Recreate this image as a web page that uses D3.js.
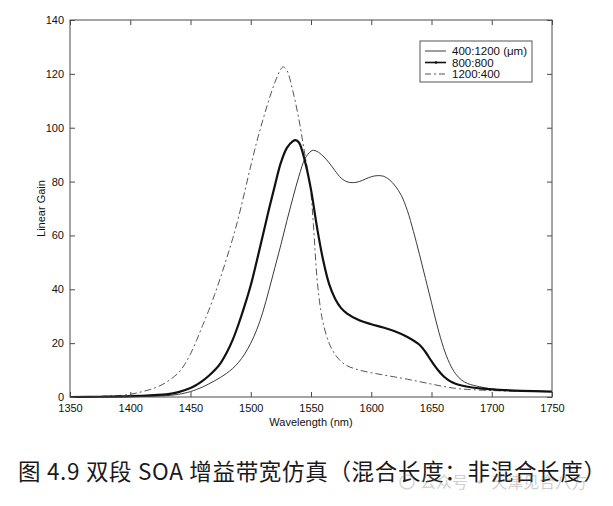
<!DOCTYPE html>
<html>
<head>
<meta charset="utf-8">
<script src="https://cdn.jsdelivr.net/npm/d3@7/dist/d3.min.js"></script>
<style>
  html, body { margin: 0; padding: 0; background: #fff; }
  svg { display: block; }
</style>
</head>
<body>
<svg id="chart" width="613" height="506"></svg>
<script>
// ---- data ----
const xTicks = [1350, 1400, 1450, 1500, 1550, 1600, 1650, 1700, 1750];
const yTicks = [0, 20, 40, 60, 80, 100, 120, 140];
const seriesNames = ["400:1200 (\u03bcm)", "800:800", "1200:400"];

// 400:1200 (thin solid)
const wl1 = [1350,1375,1400,1410,1420,1430,1440,1450,1455,1460,1465,1470,1475,1480,1485,1490,1495,1500,1505,1510,1515,1520,1525,1530,1535,1540,1545,1550,1552,1555,1560,1565,1570,1575,1580,1585,1590,1595,1600,1605,1610,1615,1620,1625,1630,1635,1640,1645,1650,1655,1660,1665,1670,1675,1680,1690,1700,1710,1725,1750];
const g1  = [0,0,0.1,0.2,0.3,0.5,1,2,2.8,3.7,4.8,6,7.3,8.8,10.6,12.9,16,20,25,31.5,39.5,48,56.5,65.5,74,82,88.5,91.3,91.6,91.2,89.5,87,84,81.3,79.9,79.6,80,80.9,81.8,82.2,82,80.7,78.3,74.8,69.2,61.5,53,44,35,26,18.3,12.5,8.6,6.3,5,3.8,3,2.6,2.3,2];

// 800:800 (thick dotted)
const wl2 = [1350,1375,1400,1420,1430,1440,1450,1455,1460,1465,1470,1475,1480,1485,1490,1495,1500,1505,1510,1515,1520,1525,1530,1535,1537,1540,1545,1550,1555,1560,1565,1570,1575,1580,1590,1600,1610,1620,1630,1640,1645,1650,1655,1660,1665,1670,1680,1690,1700,1725,1750];
const g2  = [0,0.1,0.3,0.7,1,1.8,3.3,4.5,6,7.8,9.9,12.6,16.4,21.2,27.2,34,41.5,50.5,60,69.5,78.5,87,92.5,95,95.4,94.5,87.5,77,63,51,42,36.5,33,31,28.5,27,25.8,24.3,22.3,19.4,16.7,13.3,10.2,7.7,6,4.9,3.8,3.2,2.8,2.3,2];

// 1200:400 (dash-dot)
const wl3 = [1350,1375,1390,1400,1410,1420,1430,1440,1445,1450,1455,1460,1465,1470,1475,1480,1485,1490,1495,1500,1505,1510,1515,1520,1525,1527,1530,1535,1540,1544,1548,1550,1552,1555,1558,1560,1565,1570,1575,1580,1590,1600,1610,1620,1630,1640,1650,1660,1670,1680,1700,1725,1750];
const g3  = [0,0.2,0.5,1,2,3.3,5.5,9,12,16,21,26.5,32,38,44.5,51.5,58.8,67,76.3,85.8,94.8,102.8,110.2,116.8,121.8,122.6,121.3,113.5,103,92.5,82,75.5,64,44,32.5,27.5,20,15.8,13.2,11.6,10,9,8.2,7.4,6.6,5.7,4.8,3.9,3.2,2.8,2.4,2.1,2];

// ---- layout ----
const svg = d3.select("#chart");
const M = { left: 70, right: 552, top: 20, bottom: 397 };
const x = d3.scaleLinear().domain([1350, 1750]).range([M.left, M.right]);
const y = d3.scaleLinear().domain([0, 140]).range([M.bottom, M.top]);
const font = "'Liberation Sans', Arial, sans-serif";
const frameColor = "#4a4a4a";

// curves
const line = d3.line().x(d => x(d[0])).y(d => y(d[1])).curve(d3.curveCatmullRom.alpha(0.5));
const s1 = wl1.map((w, i) => [w, g1[i]]);
const s2 = wl2.map((w, i) => [w, g2[i]]);
const s3 = wl3.map((w, i) => [w, g3[i]]);

const plot = svg.append("g");
plot.append("path").datum(s3).attr("d", line)
  .attr("fill", "none").attr("stroke", "#555").attr("stroke-width", 1)
  .attr("stroke-dasharray", "7,3,2,3");
plot.append("path").datum(s1).attr("d", line)
  .attr("fill", "none").attr("stroke", "#3a3a3a").attr("stroke-width", 1);
plot.append("path").datum(s2).attr("d", line)
  .attr("fill", "none").attr("stroke", "#111").attr("stroke-width", 2.2);

// axes (ticks inward on all four sides)
const tickLen = 5;
const axB = d3.axisBottom(x).tickValues(xTicks).tickSizeInner(-tickLen).tickSizeOuter(0).tickPadding(7).tickFormat(d3.format("d"));
const axT = d3.axisTop(x).tickValues(xTicks).tickSizeInner(-tickLen).tickSizeOuter(0).tickFormat("");
const axL = d3.axisLeft(y).tickValues(yTicks).tickSizeInner(-tickLen).tickSizeOuter(0).tickPadding(6).tickFormat(d3.format("d"));
const axR = d3.axisRight(y).tickValues(yTicks).tickSizeInner(-tickLen).tickSizeOuter(0).tickFormat("");

function style(g) {
  g.select(".domain").remove();
  g.selectAll("line").attr("stroke", frameColor).attr("stroke-width", 1);
  g.selectAll("text").attr("font-family", font).attr("font-size", 11).attr("fill", "#111");
}
svg.append("g").attr("transform", `translate(0,${M.bottom})`).call(axB).call(style);
svg.append("g").attr("transform", `translate(0,${M.top})`).call(axT).call(style);
svg.append("g").attr("transform", `translate(${M.left},0)`).call(axL).call(style);
svg.append("g").attr("transform", `translate(${M.right},0)`).call(axR).call(style);

svg.append("rect")
  .attr("x", M.left).attr("y", M.top)
  .attr("width", M.right - M.left).attr("height", M.bottom - M.top)
  .attr("fill", "none").attr("stroke", frameColor).attr("stroke-width", 1);

// axis titles
svg.append("text").attr("x", (M.left + M.right) / 2).attr("y", 426)
  .attr("text-anchor", "middle").attr("font-family", font).attr("font-size", 11).attr("fill", "#111")
  .text("Wavelength (nm)");
svg.append("text")
  .attr("transform", `translate(45,${(M.top + M.bottom) / 2}) rotate(-90)`)
  .attr("text-anchor", "middle").attr("font-family", font).attr("font-size", 11).attr("fill", "#111")
  .text("Linear Gain");

// legend
const lg = svg.append("g");
lg.append("rect").attr("x", 420).attr("y", 41).attr("width", 112).attr("height", 41)
  .attr("fill", "#fff").attr("stroke", "#555").attr("stroke-width", 1);
const legStyles = [
  { w: 1, c: "#3a3a3a", dash: null },
  { w: 1.6, c: "#111", dash: null },
  { w: 1, c: "#555", dash: "6,3,2,3" }
];
seriesNames.forEach((name, i) => {
  const yy = 51 + i * 11.5;
  lg.append("line").attr("x1", 425).attr("x2", 446).attr("y1", yy).attr("y2", yy)
    .attr("stroke", legStyles[i].c).attr("stroke-width", legStyles[i].w)
    .attr("stroke-dasharray", legStyles[i].dash);
  if (i === 1) lg.append("circle").attr("cx", 436).attr("cy", yy).attr("r", 1.3).attr("fill", "#111");
  lg.append("text").attr("x", 452).attr("y", yy + 4)
    .attr("font-family", font).attr("font-size", 11.5).attr("fill", "#111").text(name);
});

// caption
svg.append("text").attr("x", 18).attr("y", 480)
  .attr("font-family", "'Noto Sans CJK SC', sans-serif").attr("font-size", 22.5).attr("fill", "#1a1a1a")
  .attr("textLength", 588).attr("lengthAdjust", "spacing")
  .text("图 4.9  双段 SOA 增益带宽仿真（混合长度：非混合长度）");

// watermark
const wm = svg.append("g").attr("opacity", 0.35);
wm.append("circle").attr("cx", 407).attr("cy", 482).attr("r", 7).attr("fill", "none").attr("stroke", "#888").attr("stroke-width", 1.5);
wm.append("text").attr("x", 420).attr("y", 488)
  .attr("font-family", "'Noto Sans CJK SC', sans-serif").attr("font-size", 16).attr("fill", "#777")
  .text("公众号 · 天津见合八方");
</script>
</body>
</html>
